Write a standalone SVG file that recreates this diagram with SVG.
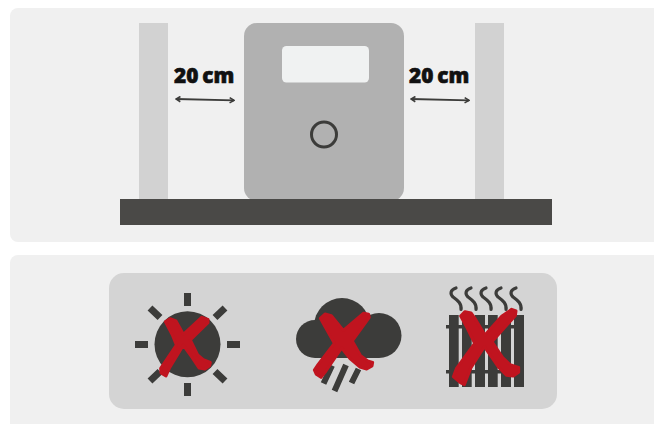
<svg xmlns="http://www.w3.org/2000/svg" width="654" height="424" viewBox="0 0 654 424">
<defs>
<marker id="ah" viewBox="0 0 8 8" refX="6.500" refY="4" markerWidth="7" markerHeight="7" markerUnits="userSpaceOnUse" orient="auto-start-reverse"><path d="M1.500 1L6.500 4L1.500 7" fill="none" stroke="#3c3c3a" stroke-width="1.800"/></marker>
</defs>
<style>
.panel{fill:#f0f0f0}
.post{fill:#d2d2d2}
.dark{fill:#3c3c3a}
.ray{stroke:#3c3c3a;stroke-width:7;fill:none}
.rain{stroke:#3c3c3a;stroke-width:6;fill:none}
.steam{stroke:#3c3c3a;stroke-width:3.200;fill:none;stroke-linecap:round}
.x{fill:#c0141f;stroke:#c0141f;stroke-linejoin:round}
.lab{font-family:"Open Sans",sans-serif;font-weight:800;font-size:20.800px;fill:#111;stroke:#111;stroke-width:.6px;word-spacing:-1.500px}
.dim{stroke:#3c3c3a;stroke-width:1.800;fill:none;marker-start:url(#ah);marker-end:url(#ah)}
</style>
<g id="panel-top"><rect class="panel" x="10" y="8" width="660" height="234" rx="8"/></g>
<g id="panel-bottom"><rect class="panel" x="10" y="255" width="660" height="190" rx="8"/></g>
<g id="post-left"><rect class="post" x="139" y="23" width="29" height="176"/></g>
<g id="post-right"><rect class="post" x="475" y="23" width="29" height="176"/></g>
<g id="device">
<rect x="244" y="23" width="160" height="178" rx="13" fill="#b1b1b1"/>
<rect x="282" y="46" width="87" height="36.500" rx="4.500" fill="#f0f2f2"/>
<circle cx="324" cy="134.500" r="12.500" fill="none" stroke="#3c3c3a" stroke-width="3"/>
</g>
<g id="base"><rect x="120" y="199" width="432" height="26" fill="#4a4947"/></g>
<g id="label-left"><text class="lab" x="174" y="83">20 cm</text></g>
<g id="label-right"><text class="lab" x="409" y="83">20 cm</text></g>
<g id="connectors">
<path class="dim" d="M176 99L234 100.400"/>
<path class="dim" d="M411 99L469 100.400"/>
</g>
<g id="icons-panel"><rect x="109" y="273" width="448" height="136" rx="15" fill="#d4d4d4"/></g>
<g id="icon-sun">
<circle class="dark" cx="187.500" cy="344.300" r="33"/>
<path class="ray" d="M187.500 293V306M187.500 383V396M135 344.500H148M227 344.500H240M150 308L160 317.500M225 308L215 317.500M150 381L160 371.500M225 381L215 371.500"/>
<path class="x" transform="translate(130 280) scale(.3333)" stroke-width="9" d="M106 125L120 116L138 123L160 163L215 112L234 118L234 128L181 180L203 225L220 239L241 247L239 257L225 267L207 264L185 231L160 196L118 265L108 288L93 279L92 265L139 195L127 165Z"/>
</g>
<g id="icon-rain">
<g class="dark"><circle cx="342" cy="326" r="28"/><circle cx="315" cy="339" r="19"/><circle cx="379" cy="335.500" r="22.500"/><rect x="315" y="335" width="64" height="23"/></g>
<path class="rain" d="M332 365.500L323.500 383.500M346 365L334.500 391M358.500 369L351.500 383"/>
<path class="x" transform="translate(285 285) scale(.3333)" stroke-width="9" d="M106 100L120 87L139 92L175 136L235 85L251 88L253 97L202 168L226 211L248 228L263 232L261 243L245 252L225 246L195 221L170 189L123 258L108 277L94 268L88 255L99 239L148 175Z"/>
</g>
<g id="icon-radiator">
<g class="dark">
<rect x="449" y="315" width="9.700" height="72"/><rect x="462" y="315" width="9.700" height="72"/><rect x="475" y="315" width="10" height="72"/><rect x="488" y="315" width="9.700" height="72"/><rect x="501" y="315" width="10" height="72"/><rect x="514" y="315" width="10" height="72"/>
<rect x="446" y="325" width="78" height="3.500"/><rect x="446" y="370" width="78" height="3.500"/>
</g>
<path class="steam" d="M456 288C450 290 450 294 453 297C457 300 462 303 461 309.500"/>
<path class="steam" d="M471 288C465 290 465 294 468 297C472 300 477 303 476 309.500"/>
<path class="steam" d="M486 288C480 290 480 294 483 297C487 300 492 303 491 309.500"/>
<path class="steam" d="M501 288C495 290 495 294 498 297C502 300 507 303 506 309.500"/>
<path class="steam" d="M516 288C510 290 510 294 513 297C517 300 522 303 521 309.500"/>
<path class="x" transform="translate(435 280) scale(.3333)" stroke-width="9" d="M77 108L90 95L108 99L121 117L150 165L200 109L230 88L243 93L241 107L171 185L203 233L225 254L251 262L251 277L235 288L215 286L190 261L148 200L108 263L88 314L76 308L55 290L64 266L119 190L97 145Z"/>
</g>
</svg>
